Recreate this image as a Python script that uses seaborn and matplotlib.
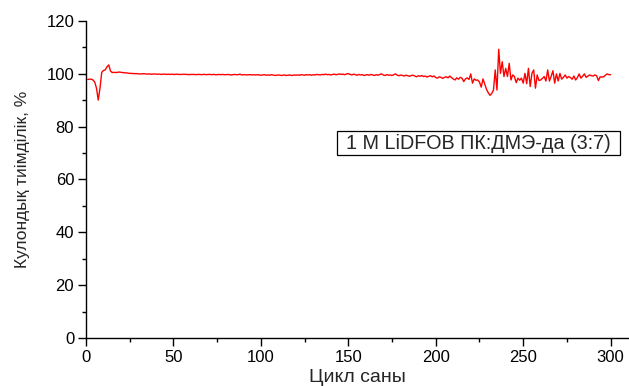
import numpy as np
import pandas as pd
import matplotlib
matplotlib.use("Agg")
import matplotlib.pyplot as plt
import seaborn as sns
from matplotlib.ticker import MultipleLocator
from matplotlib.patches import Rectangle

# ---- data ----
ce_values = [
    97.8, 97.9, 97.9, 97.6, 96.8, 94.5, 90.0, 94.5, 100.5, 101.2,
    101.4, 102.6, 103.3, 101.0, 100.4, 100.5, 100.4, 100.5, 100.6, 100.5,
    100.4, 100.3, 100.3, 100.2, 100.1, 100.1, 100.0, 100.0, 100.0, 99.9,
    99.9, 99.9, 100.0, 99.9, 99.8, 99.9, 99.8, 99.8, 99.9, 99.8,
    99.8, 99.8, 99.7, 99.8, 99.8, 99.7, 99.8, 99.7, 99.8, 99.7,
    99.7, 99.8, 99.7, 99.7, 99.7, 99.8, 99.7, 99.7, 99.6, 99.7,
    99.7, 99.7, 99.6, 99.7, 99.7, 99.6, 99.7, 99.7, 99.6, 99.7,
    99.7, 99.6, 99.7, 99.6, 99.6, 99.7, 99.6, 99.7, 99.6, 99.6,
    99.7, 99.6, 99.5, 99.6, 99.7, 99.6, 99.6, 99.8, 99.5, 99.6,
    99.6, 99.5, 99.6, 99.6, 99.5, 99.6, 99.5, 99.6, 99.5, 99.4,
    99.5, 99.6, 99.4, 99.5, 99.4, 99.6, 99.5, 99.3, 99.4, 99.5,
    99.4, 99.3, 99.5, 99.4, 99.3, 99.5, 99.4, 99.3, 99.5, 99.4,
    99.5, 99.4, 99.6, 99.5, 99.4, 99.6, 99.5, 99.6, 99.4, 99.6,
    99.5, 99.7, 99.6, 99.5, 99.7, 99.6, 99.8, 99.6, 99.7, 99.5,
    99.7, 99.8, 99.6, 99.7, 99.9, 99.7, 99.8, 99.6, 99.9, 100.0,
    99.7, 99.5, 99.8, 99.6, 99.4, 99.7, 99.5, 99.6, 99.3, 99.5,
    99.6, 99.4, 99.7, 99.5, 99.3, 99.6, 99.4, 99.7, 99.9, 99.5,
    99.3, 99.6, 99.4, 99.5, 99.3, 99.6, 99.9, 99.4, 99.2, 99.5,
    99.3, 99.1, 99.4, 99.2, 99.0, 99.3, 99.4, 99.1, 98.8, 99.2,
    99.0, 99.3, 98.9, 99.1, 98.7, 99.0, 99.2, 98.8, 99.1, 98.5,
    98.3, 98.8, 98.6, 98.2, 98.6, 98.8, 98.4, 99.1, 98.5, 98.0,
    97.6, 98.4, 97.9, 98.6, 98.3, 97.0, 98.0, 98.4, 97.8, 99.9,
    96.4, 98.0, 97.5, 97.6, 96.8, 94.9, 98.0, 96.0, 94.1, 92.8,
    91.8, 92.5, 93.8, 101.4, 93.8, 109.2, 100.1, 104.5, 98.9, 102.0,
    98.9, 103.9, 97.6, 99.5, 98.9, 96.6, 98.3, 97.5, 98.3, 96.4,
    100.1, 96.2, 102.0, 95.1, 100.1, 101.4, 94.5, 99.5, 97.4, 97.6,
    98.2, 98.9, 97.2, 101.4, 97.2, 99.0, 101.1, 96.4, 99.9, 97.2,
    100.1, 97.9, 98.6, 99.5, 98.3, 98.9, 98.5, 97.9, 99.1, 97.6,
    98.5, 99.9, 98.3, 99.0, 99.9, 98.6, 99.1, 99.5, 99.2, 99.1,
    99.5, 99.2, 97.4, 98.8, 98.7, 98.8, 99.4, 99.9, 99.6, 99.6,
]
cycles = list(range(1, len(ce_values) + 1))
x_ticks = [0, 50, 100, 150, 200, 250, 300]
y_ticks = [0, 20, 40, 60, 80, 100, 120]
x_label = "Цикл саны"
y_label = "Кулондық тиімділік, %"
legend_text = "1 M LiDFOB ПК:ДМЭ-да (3:7)"

df = pd.DataFrame({"cycle": cycles, "ce": ce_values})

sns.set_style("ticks")
plt.rcParams["font.family"] = ["Liberation Sans", "DejaVu Sans"]

W, H = 629, 386
fig = plt.figure(figsize=(W / 100, H / 100), dpi=100)
ax = fig.add_axes([86 / W, 47.7 / H, 1 - 86 / W, 317.6 / H])

sns.lineplot(data=df, x="cycle", y="ce", ax=ax, color="#ff0000", linewidth=1.0)

ax.set_xlim(0, 310.5)
ax.set_ylim(0, 120)
ax.set_xticks(x_ticks)
ax.set_yticks(y_ticks)
ax.xaxis.set_minor_locator(MultipleLocator(25))
ax.yaxis.set_minor_locator(MultipleLocator(10))
ax.tick_params(which="major", direction="out", length=5.5, width=1, labelsize=12,
               colors="black", pad=3)
ax.tick_params(which="minor", direction="out", length=3, width=1, colors="black")
for side in ("top", "right"):
    ax.spines[side].set_visible(False)
for side in ("left", "bottom"):
    ax.spines[side].set_linewidth(1)
    ax.spines[side].set_color("black")

ax.set_xlabel(x_label, fontsize=14, labelpad=3)
ax.set_ylabel(y_label, fontsize=12.5, labelpad=12)

# legend-like text box
fig.patches.append(Rectangle((337 / W, 1 - 155 / H), 283 / W, 24 / H,
                             transform=fig.transFigure, facecolor="white",
                             edgecolor="black", linewidth=0.9, zorder=5))
fig.text(478.5 / W, 1 - 143.5 / H, legend_text, ha="center", va="center",
         fontsize=14.2, zorder=6)

fig.savefig("out.png", dpi=100)
